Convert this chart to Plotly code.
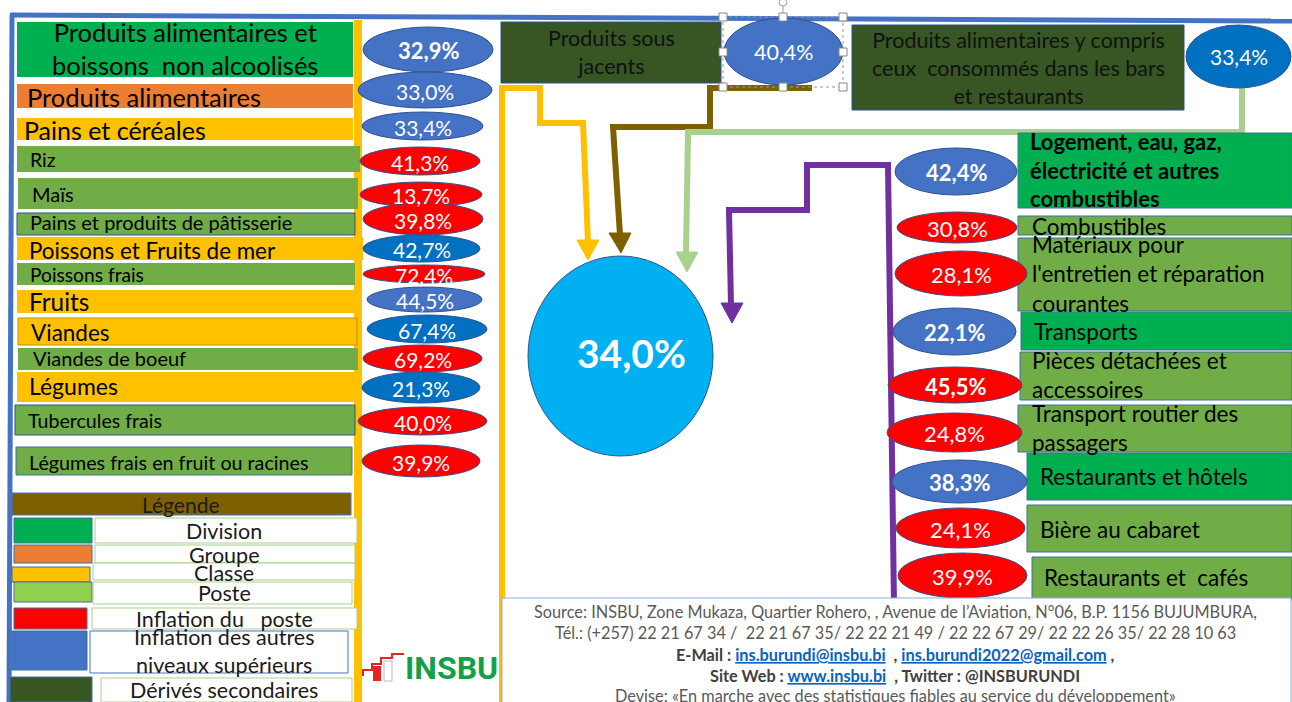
import plotly.graph_objects as go

# ---------------- DATA ----------------
left_labels = ["Produits alimentaires et<br>boissons  non alcoolisés", "Produits alimentaires",
               "Pains et céréales", "Riz", "Maïs", "Pains et produits de pâtisserie",
               "Poissons et Fruits de mer", "Poissons frais", "Fruits", "Viandes",
               "Viandes de boeuf", "Légumes", "Tubercules frais", "Légumes frais en fruit ou racines"]
left_levels = ["Division", "Groupe", "Classe", "Poste", "Poste", "Poste", "Classe", "Poste",
               "Classe", "Classe", "Poste", "Classe", "Poste", "Poste"]
left_values = [32.9, 33.0, 33.4, 41.3, 13.7, 39.8, 42.7, 72.4, 44.5, 67.4, 69.2, 21.3, 40.0, 39.9]

right_labels = ["<b>Logement, eau, gaz,<br>électricité et autres<br>combustibles</b>", "Combustibles",
                "Matériaux pour<br>l'entretien et réparation<br>courantes", "Transports",
                "Pièces détachées et<br>accessoires", "Transport routier des<br>passagers",
                "Restaurants et hôtels", "Bière au cabaret", "Restaurants et  cafés"]
right_levels = ["Division", "Poste", "Poste", "Division", "Poste", "Poste", "Division", "Poste", "Poste"]
right_values = [42.4, 30.8, 28.1, 22.1, 45.5, 24.8, 38.3, 24.1, 39.9]

top_labels = ["Produits sous<br>jacents",
              "Produits alimentaires y compris<br>ceux  consommés dans les bars<br>et restaurants"]
top_values = [40.4, 33.4]
overall_value = 34.0

legend_title = "Légende"
legend_labels = ["Division", "Groupe", "Classe", "Poste", "Inflation du   poste",
                 "Inflation des autres<br>niveaux supérieurs", "Dérivés secondaires"]

footer_lines = [
    "Source: INSBU, Zone Mukaza, Quartier Rohero, , Avenue de l’Aviation, N°06, B.P. 1156 BUJUMBURA,",
    "Tél.: (+257) 22 21 67 34 /  22 21 67 35/ 22 22 21 49 / 22 22 67 29/ 22 22 26 35/ 22 28 10 63",
    "<b>E-Mail : <span style='color:#0563C1'><u>ins.burundi@insbu.bi</u></span>  , "
    "<span style='color:#0563C1'><u>ins.burundi2022@gmail.com</u></span> ,</b>",
    "<b>Site Web : <span style='color:#0563C1'><u>www.insbu.bi</u></span>  , Twitter : @INSBURUNDI</b>",
    "Devise: «En marche avec des statistiques fiables au service du développement»",
]

# ---------------- STYLE / GEOMETRY ----------------
FONT = "Lato, 'Open Sans', sans-serif"
level_fill = {"Division": "#00B050", "Groupe": "#ED7D31", "Classe": "#FFC000", "Poste": "#70AD47"}
RED = "#FF0000"
BLUE = "#4472C4"
DBLUE = "#0070C0"
DGREEN = "#375623"

left_box = [(17, 22, 353, 77), (17, 84, 353, 108), (17, 118, 353, 140), (17, 146, 360, 172),
            (18, 178, 358, 209), (17, 213, 355, 235), (17, 237, 363, 260), (17, 263, 355, 285),
            (17, 290, 355, 313), (18, 318, 357, 345), (18, 348, 358, 370), (17, 372, 355, 402),
            (15, 405, 355, 435), (16, 447, 352, 475)]
left_box_line = [None, None, None, None, None, "#2F528F", None, None, None, "#BF9000", None, None,
                 "#2F528F", "#41719C"]
left_ell = [(363, 27, 493, 72), (358, 72, 492, 108), (362, 112, 483, 140), (360, 147, 480, 175),
            (360, 182, 482, 207), (363, 203, 483, 235), (363, 235, 480, 262), (363, 265, 485, 283),
            (367, 287, 482, 312), (367, 315, 487, 343), (363, 345, 482, 372), (362, 372, 480, 403),
            (358, 407, 487, 435), (362, 445, 480, 477)]
left_ell_blue = [BLUE, BLUE, BLUE, None, None, None, DBLUE, None, BLUE, DBLUE, None, DBLUE, None, None]
left_txt_x = [None, 25, 22, 28, 30, 28, 27, 28, 27, 29, 31, 27, 26, 27]
left_txt_y = [48, 97, 130, 159, 194, 222, 250, 274, 301, 332, 358, 386, 420, 462]
left_txt_size = [25.5, 25.5, 25, 19.5, 20, 20, 22.4, 19.2, 24.4, 22.5, 20, 23, 19.6, 19.7]

right_box = [(1018, 133, 1292, 208), (1018, 216, 1292, 235), (1018, 238, 1292, 311),
             (1021, 312, 1292, 350), (1020, 352, 1292, 400), (1018, 405, 1292, 452),
             (1027, 453, 1292, 500), (1027, 505, 1292, 552), (1032, 557, 1292, 600)]
right_ell = [(895, 148, 1017, 195), (897, 212, 1017, 243), (895, 251, 1027, 296),
             (893, 308, 1016, 355), (888, 367, 1022, 403), (887, 413, 1022, 452),
             (892, 460, 1027, 503), (896, 508, 1025, 548), (898, 553, 1027, 598)]
right_txt_x = [1028, 1030, 1030, 1032, 1030, 1030, 1038, 1038, 1042]
right_txt_y = [170, 226, 274, 331, 375, 428, 476, 529, 577]
right_txt_size = [22, 22.5, 22.5, 22.5, 22.5, 22.5, 22.5, 22.5, 22.5]

shapes = []
annots = []


def rect(x0, y0, x1, y1, fill, line=None, lw=1):
    shapes.append(dict(type="rect", xref="x", yref="y", x0=x0, y0=y0, x1=x1, y1=y1,
                       fillcolor=fill, line=dict(color=line or "rgba(0,0,0,0)", width=lw if line else 0)))


def ell(x0, y0, x1, y1, fill, line="#2F528F", lw=1):
    shapes.append(dict(type="circle", xref="x", yref="y", x0=x0, y0=y0, x1=x1, y1=y1,
                       fillcolor=fill, line=dict(color=line, width=lw)))


def path(d, color, width, fill=None):
    s = dict(type="path", xref="x", yref="y", path=d, line=dict(color=color, width=width))
    if fill:
        s["fillcolor"] = fill
    shapes.append(s)


def text(x, y, t, size, color="#000000", xanchor="left", bold=False, family=FONT):
    if bold:
        t = "<b>" + t + "</b>"
    annots.append(dict(x=x, y=y, xref="x", yref="y", text=t, showarrow=False,
                       xanchor=xanchor, yanchor="middle", align="center" if xanchor == "center" else "left",
                       font=dict(family=family, size=size, color=color)))


def pct(v):
    return f"{v:.1f}".replace(".", ",") + "%"


# ---------------- FRAME LINES ----------------
path("M 10 15 L 1292 21", BLUE, 5)
path("M 12 15 L 9 702", BLUE, 5)
rect(354, 20, 362, 702, "#FFC000")

# ---------------- ARROWS ----------------
path("M 502 702 L 502 88 L 540 88 L 540 123 L 583 123 L 588 242", "#FFC000", 6)
path("M 577 240 L 599 240 L 588 260 Z", "#FFC000", 1, "#FFC000")
path("M 812 88 L 710 88 L 710 127 L 613 127 L 620 235", "#7F6000", 6)
path("M 609 233 L 631 233 L 621 253 Z", "#7F6000", 1, "#7F6000")
path("M 1242 86 L 1242 132 L 688 132 L 686 253", "#A9D18E", 6)
path("M 676 252 L 698 252 L 687 272 Z", "#A9D18E", 1, "#A9D18E")

# ---------------- LEFT PANEL ----------------
for i, lab in enumerate(left_labels):
    x0, y0, x1, y1 = left_box[i]
    rect(x0, y0, x1, y1, level_fill[left_levels[i]], left_box_line[i], 1)
    if left_txt_x[i] is None:
        text((x0 + x1) / 2, left_txt_y[i], lab, left_txt_size[i], xanchor="center")
    else:
        text(left_txt_x[i], left_txt_y[i], lab, left_txt_size[i])
for i, v in enumerate(left_values):
    ex0, ey0, ex1, ey1 = left_ell[i]
    col = RED if left_levels[i] == "Poste" else left_ell_blue[i]
    ell(ex0, ey0, ex1, ey1, col)
    text((ex0 + ex1) / 2, (ey0 + ey1) / 2 + 1, pct(v), 22 if i == 0 else 21, "#FFFFFF", "center",
         bold=(i == 0))

# ---------------- LEGEND ----------------
rect(12, 493, 351, 515, "#7F6000", "#4472C4", 1)
text(181, 504, legend_title, 21, "#1a1a1a", "center")
leg_sw = [(14, 518, 92, 543), (14, 545, 92, 563), (12, 567, 90, 582), (14, 582, 92, 602),
          (14, 608, 87, 629), (8, 631, 87, 670), (10, 677, 92, 702)]
leg_sw_col = ["#00B050", "#ED7D31", "#FFC000", "#92D050", "#FF0000", "#4472C4", DGREEN]
leg_box = [(95, 518, 357, 543), (95, 545, 355, 563), (93, 563, 355, 580), (93, 582, 352, 604),
           (92, 608, 357, 629), (90, 631, 348, 673), (101, 678, 352, 702)]
leg_box_line = ["#A9D18E", "#A9D18E", "#A9D18E", "#A9D18E", "#A9D18E", "#4472C4", "#A9D18E"]
leg_txt_y = [531, 555, 573, 593, 619, 651, 690]
for i, lab in enumerate(legend_labels):
    sx0, sy0, sx1, sy1 = leg_sw[i]
    rect(sx0, sy0, sx1, sy1, leg_sw_col[i], "#41719C", 1)
    bx0, by0, bx1, by1 = leg_box[i]
    rect(bx0, by0, bx1, by1, "#FFFFFF", leg_box_line[i], 1)
for i, lab in enumerate(legend_labels):
    text(224, leg_txt_y[i], lab, 21.5, "#1a1a1a", "center")

# ---------------- LOGO ----------------
path("M 363 676 L 363 670 L 372 670 L 372 664 L 381 664 L 381 658 L 392 658 L 392 654 L 404 654",
     "#E52521", 2)
rect(373, 666, 381, 681, "#E52521")
rect(384, 661, 392, 681, "#FFFFFF", "#BBBBBB", 1)
text(403, 668, "<b>INSBU</b>", 32, "#12A14A", "left", family="Roboto, Lato, sans-serif")

# ---------------- TOP ----------------
rect(501, 22, 721, 83, DGREEN, "#2F528F", 1)
text(611, 52, top_labels[0], 21.5, "#111111", "center")
ell(724, 18, 843, 85, BLUE)
text(783.5, 52, pct(top_values[0]), 21.5, "#FFFFFF", "center")
# selection frame around the selected ellipse
shapes.append(dict(type="rect", xref="x", yref="y", x0=723, y0=17, x1=843, y1=87,
                   line=dict(color="#999999", width=1, dash="dot")))
path("M 783 17 L 783 6", "#999999", 1)
ell(779, -1, 787, 6, "#FFFFFF", "#999999", 1)
for hx in (723, 783, 843):
    for hy in (17, 52, 87):
        if hx == 783 and hy == 52:
            continue
        rect(hx - 4, hy - 4, hx + 4, hy + 4, "#FFFFFF", "#888888", 1)

rect(852, 25, 1184, 110, DGREEN, "#2F528F", 1)
text(1018, 68, top_labels[1], 21.5, "#111111", "center")
ell(1186, 25, 1291, 88, DBLUE)
text(1239, 56, pct(top_values[1]), 21, "#FFFFFF", "center")

# ---------------- CENTER ----------------
ell(528, 256, 713, 456, "#00B0F0", "#2F528F", 1)
text(631, 353, pct(overall_value), 39, "#FFFFFF", "center", bold=True)

# purple arrow
path("M 894 604 L 888 165 L 807 165 L 807 210 L 729 210 L 731 305", "#7030A0", 6)
path("M 721 303 L 743 303 L 732 323 Z", "#7030A0", 1, "#7030A0")

# ---------------- RIGHT PANEL ----------------
for i, lab in enumerate(right_labels):
    x0, y0, x1, y1 = right_box[i]
    rect(x0, y0, x1, y1, level_fill[right_levels[i]], "#41719C", 1)
for i, lab in enumerate(right_labels):
    text(right_txt_x[i], right_txt_y[i], lab, right_txt_size[i])
for i, v in enumerate(right_values):
    ex0, ey0, ex1, ey1 = right_ell[i]
    col = RED if right_levels[i] == "Poste" else BLUE
    b = right_levels[i] != "Poste" or i == 4
    ell(ex0, ey0, ex1, ey1, col)
    text((ex0 + ex1) / 2, (ey0 + ey1) / 2 + 1, pct(v), 22, "#FFFFFF", "center", bold=b)

# ---------------- FOOTER ----------------
rect(502, 598, 1291, 703, "#FFFFFF", "#8FAADC", 1)
foot_y = [611, 632, 654, 675, 695]
foot_col = ["#595959", "#595959", "#404040", "#404040", "#595959"]
for i, ln in enumerate(footer_lines):
    text(895, foot_y[i], ln, 16.3, foot_col[i], "center")

fig = go.Figure()
fig.update_layout(
    width=1292, height=702,
    margin=dict(l=0, r=0, t=0, b=0),
    paper_bgcolor="#FFFFFF", plot_bgcolor="#FFFFFF",
    xaxis=dict(range=[0, 1292], visible=False, fixedrange=True),
    yaxis=dict(range=[702, 0], visible=False, fixedrange=True),
    shapes=shapes, annotations=annots, showlegend=False,
)
fig.write_html("out.html", config={"displayModeBar": False},
               post_script="document.body.style.margin='0px';document.body.style.overflow='hidden';")
